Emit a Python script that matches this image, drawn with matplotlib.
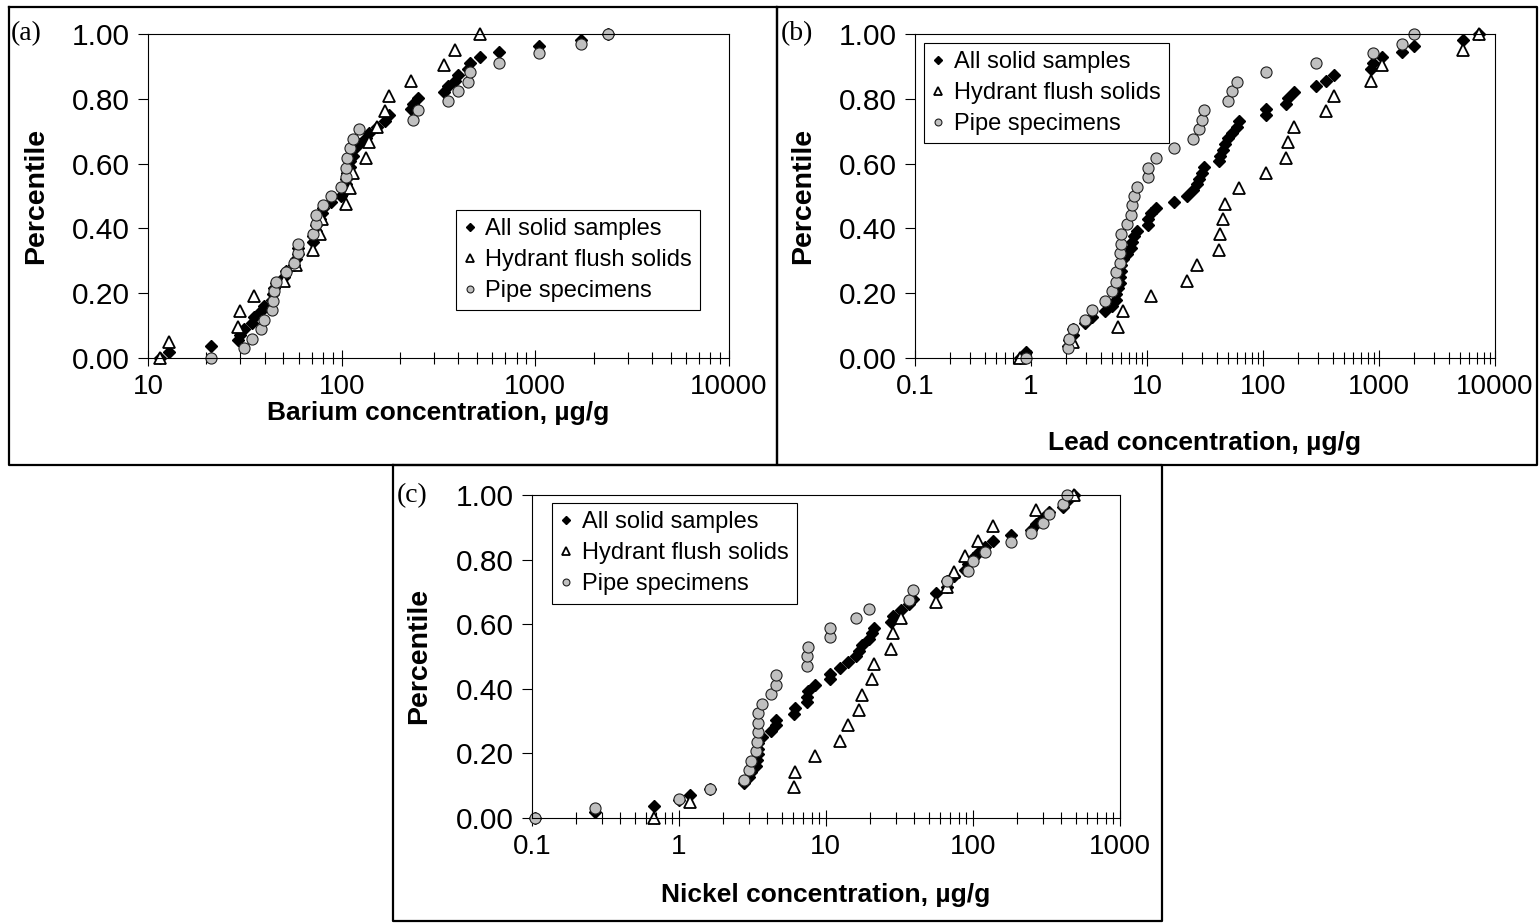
import matplotlib
matplotlib.use("Agg")
import matplotlib.pyplot as plt
from matplotlib.lines import Line2D

plt.rcParams['font.family'] = ['Liberation Sans', 'DejaVu Sans']

# percentile ranks (57 all, 22 hydrant, 35 pipe)
pct_all = [0.000, 0.018, 0.036, 0.054, 0.071, 0.089, 0.107, 0.125, 0.143, 0.161,
           0.179, 0.196, 0.214, 0.232, 0.250, 0.268, 0.286, 0.304, 0.321, 0.339,
           0.357, 0.375, 0.393, 0.411, 0.429, 0.446, 0.464, 0.482, 0.500, 0.518,
           0.536, 0.554, 0.571, 0.589, 0.607, 0.625, 0.643, 0.661, 0.679, 0.696,
           0.714, 0.732, 0.750, 0.768, 0.786, 0.804, 0.821, 0.839, 0.857, 0.875,
           0.893, 0.911, 0.929, 0.946, 0.964, 0.982, 1.000]
pct_hyd = [0.000, 0.048, 0.095, 0.143, 0.190, 0.238, 0.286, 0.333, 0.381, 0.429,
           0.476, 0.524, 0.571, 0.619, 0.667, 0.714, 0.762, 0.810, 0.857, 0.905,
           0.952, 1.000]
pct_pipe = [0.000, 0.029, 0.059, 0.088, 0.118, 0.147, 0.176, 0.206, 0.235, 0.265,
            0.294, 0.324, 0.353, 0.382, 0.412, 0.441, 0.471, 0.500, 0.529, 0.559,
            0.588, 0.618, 0.647, 0.676, 0.706, 0.735, 0.765, 0.794, 0.824, 0.853,
            0.882, 0.912, 0.941, 0.971, 1.000]

# barium, ug/g
ba_all = [11.5, 12.9, 21.1, 29, 30, 31.3, 34.3, 35.3, 38.2, 39.8,
          43.8, 44, 44.9, 45.6, 50.6, 51.4, 56.9, 58, 59.7, 59.7,
          70.8, 71.3, 73.6, 74, 77.3, 78.9, 79.8, 87.7, 99, 105,
          105, 105, 106, 110, 111, 115, 115, 123, 133, 139,
          153, 167, 176, 228, 233, 249, 339, 352, 385, 400,
          447, 459, 518, 646, 1040, 1718, 2377]
ba_hyd = [11.5, 12.9, 29, 30, 35.3, 50.6, 58, 70.8, 77.3, 78.9, 105,
          110, 115, 133, 139, 153, 167, 176, 228, 339, 385, 518]
ba_pipe = [21.1, 31.3, 34.3, 38.2, 39.8, 43.8, 44, 44.9, 45.6, 51.4,
           56.9, 59.7, 59.7, 71.3, 73.6, 74, 79.8, 87.7, 99, 105,
           105, 106, 111, 115, 123, 233, 249, 352, 400, 447,
           459, 646, 1040, 1718, 2377]

# lead, ug/g
pb_all = [0.8, 0.9, 2.1, 2.14, 2.29, 2.29, 2.92, 3.34, 4.35, 4.96,
          5.37, 5.45, 5.59, 5.85, 5.9, 6.0, 6.0, 6.17, 6.76, 7.28,
          7.47, 7.73, 8.26, 10.1, 10.1, 10.8, 12, 17.1, 22, 25,
          26.8, 28, 29.6, 31, 42, 42.6, 45.5, 47, 50.2, 53.7,
          59.3, 62.5, 106, 106, 158, 163, 185, 286, 349, 409,
          847, 894, 1055, 1585, 2015, 5260, 7330]
pb_hyd = [0.8, 2.29, 5.59, 6.17, 10.8, 22, 26.8, 42, 42.6, 45.5, 47,
          62.5, 106, 158, 163, 185, 349, 409, 847, 1055, 5260, 7330]
pb_pipe = [0.9, 2.1, 2.14, 2.29, 2.92, 3.34, 4.35, 4.96, 5.37, 5.45,
           5.85, 5.9, 6.0, 6.0, 6.76, 7.28, 7.47, 7.73, 8.26, 10.1,
           10.1, 12, 17.1, 25, 28, 29.6, 31, 50.2, 53.7, 59.3,
           106, 286, 894, 1585, 2015]

# nickel, ug/g
ni_all = [0.105, 0.27, 0.68, 1.0, 1.19, 1.62, 2.78, 3.02, 3.08, 3.36,
          3.39, 3.43, 3.43, 3.47, 3.67, 4.23, 4.59, 4.59, 6.1, 6.2,
          7.43, 7.5, 7.6, 8.45, 10.6, 10.7, 12.5, 14.1, 16, 16.9,
          17.6, 19.5, 20.6, 21.3, 27.7, 28.6, 32.4, 36.9, 39, 56.3,
          66.5, 67, 74.6, 88.7, 93, 100, 108, 120, 137, 181,
          249, 270, 298, 327, 407, 436, 489]
ni_hyd = [0.68, 1.19, 6.1, 6.2, 8.45, 12.5, 14.1, 16.9, 17.6, 20.6, 21.3,
          27.7, 28.6, 32.4, 56.3, 66.5, 74.6, 88.7, 108, 137, 270, 489]
ni_pipe = [0.105, 0.27, 1.0, 1.62, 2.78, 3.02, 3.08, 3.36, 3.39, 3.43,
           3.43, 3.47, 3.67, 4.23, 4.59, 4.59, 7.43, 7.5, 7.6, 10.6,
           10.7, 16, 19.5, 36.9, 39, 67, 93, 100, 120, 181,
           249, 298, 327, 407, 436]

series_names = ['All solid samples', 'Hydrant flush solids', 'Pipe specimens']
ytick_vals = [0.0, 0.2, 0.4, 0.6, 0.8, 1.0]

W, H = 1539, 923
fig = plt.figure(figsize=(W / 100, H / 100), dpi=100)


def px_rect(x0, y0, x1, y1):
    # pixel box (top-left origin) -> figure fraction [l, b, w, h]
    return [x0 / W, 1 - y1 / H, (x1 - x0) / W, (y1 - y0) / H]


def frame(x0, y0, x1, y1):
    xs = [x0 / W, x1 / W, x1 / W, x0 / W, x0 / W]
    ys = [1 - y0 / H, 1 - y0 / H, 1 - y1 / H, 1 - y1 / H, 1 - y0 / H]
    fig.add_artist(Line2D(xs, ys, color='black', lw=1.6))


def panel(box, v_all, v_hyd, v_pipe, xlim, xticks, xlabels, xlabel,
          xlabel_y, leg_anchor):
    ax = fig.add_axes(px_rect(*box))
    ax.set_xscale('log')
    ax.plot(v_all, pct_all, ls='none', marker='D', ms=6.5, mfc='black',
            mec='black', clip_on=False, label=series_names[0])
    ax.plot(v_hyd, pct_hyd, ls='none', marker='^', ms=8.5, mfc='white',
            mec='black', mew=1.3, clip_on=False, label=series_names[1])
    ax.plot(v_pipe, pct_pipe, ls='none', marker='o', ms=8, mfc='#c0c0c0',
            mec='#202020', mew=0.8, clip_on=False, label=series_names[2])
    ax.set_xlim(*xlim)
    ax.set_ylim(0, 1)
    ax.set_xticks(xticks)
    ax.set_xticklabels(xlabels)
    ax.set_yticks(ytick_vals)
    ax.set_yticklabels(['%.2f' % v for v in ytick_vals])
    ax.tick_params(axis='x', which='major', direction='inout', length=11,
                   width=0.8, labelsize=20, pad=6)
    ax.tick_params(axis='x', which='minor', direction='inout', length=9,
                   width=0.8)
    ax.tick_params(axis='y', direction='out', length=7, width=0.8,
                   labelsize=21.5, pad=6)
    for s in ax.spines.values():
        s.set_linewidth(0.8)
    ax.set_xlabel(xlabel, fontsize=19, fontweight='bold')
    ax.xaxis.set_label_coords(0.5, xlabel_y)
    ax.set_ylabel('Percentile', fontsize=20.5, fontweight='bold')
    ax.yaxis.set_label_coords(-0.17, 0.5)
    leg = ax.legend(loc='upper left', bbox_to_anchor=leg_anchor,
                    borderaxespad=0, fontsize=17, markerscale=0.62,
                    handlelength=0.5, handletextpad=0.4, borderpad=0.35,
                    labelspacing=0.38, fancybox=False, framealpha=1,
                    edgecolor='black')
    leg.get_frame().set_linewidth(0.8)
    return ax


panel((148, 34.3, 729, 357.7), ba_all, ba_hyd, ba_pipe, (10, 10000),
      [10, 100, 1000, 10000], ['10', '100', '1000', '10000'],
      'Barium concentration, µg/g', -0.134, (0.53, 0.457))
panel((915, 34.3, 1495, 357.7), pb_all, pb_hyd, pb_pipe, (0.1, 10000),
      [0.1, 1, 10, 100, 1000, 10000],
      ['0.1', '1', '10', '100', '1000', '10000'],
      'Lead concentration, µg/g', -0.227, (0.016, 0.974))
panel((531.7, 495, 1120, 817.7), ni_all, ni_hyd, ni_pipe, (0.1, 1000),
      [0.1, 1, 10, 100, 1000], ['0.1', '1', '10', '100', '1000'],
      'Nickel concentration, µg/g', -0.202, (0.035, 0.975))

# panel frames
frame(9, 7, 777, 465)
frame(777, 7, 1537, 465)
frame(393, 465, 1162, 921)

serif = ['Liberation Serif', 'DejaVu Serif']
fig.text(11 / W, 1 - 34 / H, '(a)', family=serif, fontsize=20, va='center')
fig.text(781 / W, 1 - 34 / H, '(b)', family=serif, fontsize=20, va='center')
fig.text(397 / W, 1 - 496 / H, '(c)', family=serif, fontsize=20, va='center')

fig.savefig('out.png', dpi=100)
